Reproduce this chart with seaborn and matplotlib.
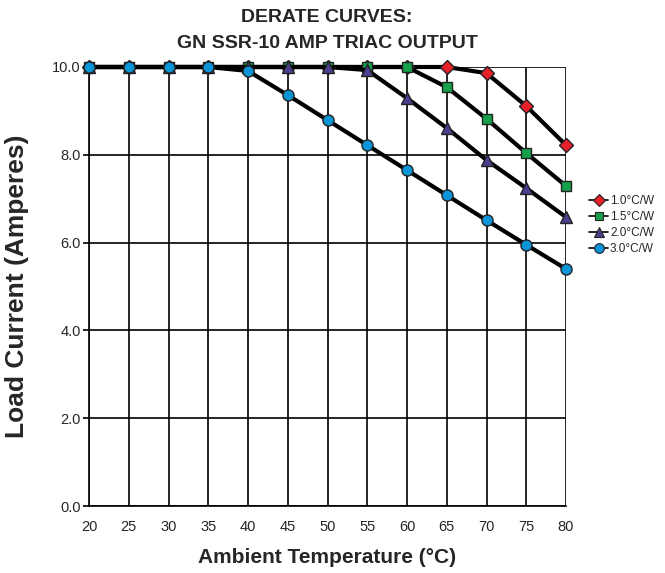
import matplotlib
matplotlib.use("Agg")
import matplotlib.pyplot as plt
import seaborn as sns
import pandas as pd
from matplotlib.lines import Line2D

temps = [20, 25, 30, 35, 40, 45, 50, 55, 60, 65, 70, 75, 80]
s10 = [10.0, 10.0, 10.0, 10.0, 10.0, 10.0, 10.0, 10.0, 10.0, 10.0, 9.86, 9.11, 8.22]
s15 = [10.0, 10.0, 10.0, 10.0, 10.0, 10.0, 10.0, 10.0, 10.0, 9.54, 8.82, 8.04, 7.29]
s20 = [10.0, 10.0, 10.0, 10.0, 10.0, 10.0, 10.0, 9.93, 9.29, 8.61, 7.88, 7.24, 6.58]
s30 = [10.0, 10.0, 10.0, 10.0, 9.91, 9.36, 8.79, 8.22, 7.65, 7.08, 6.51, 5.95, 5.40]
labels = ["1.0°C/W", "1.5°C/W", "2.0°C/W", "3.0°C/W"]
yticks = [0.0, 2.0, 4.0, 6.0, 8.0, 10.0]

colors = ["#e8202a", "#16a04a", "#4b3f8f", "#0a95d8"]
markers = ["D", "s", "^", "o"]
msizes = [7, 7, 8, 8]

sns.set_style("white")
plt.rcParams['font.family'] = ['Liberation Sans', 'DejaVu Sans']

fig = plt.figure(figsize=(6.65, 5.73), dpi=100)
ax = fig.add_axes([89/665, 1 - 506/573, (566-89)/665, (506-67)/573])

series = [s10, s15, s20, s30]
df = pd.concat([pd.DataFrame({"T": temps, "I": s, "R": lab}) for s, lab in zip(series, labels)])

for i, lab in enumerate(labels):
    sub = df[df["R"] == lab]
    sns.lineplot(data=sub, x="T", y="I", ax=ax, color="black", linewidth=3,
                 marker=markers[i], markersize=msizes[i], markerfacecolor=colors[i],
                 markeredgecolor="#222222", markeredgewidth=1.0, zorder=3 + i, legend=False,
                 clip_on=False)

ax.set_xlim(20, 80)
ax.set_ylim(0, 10)
ax.set_xticks(temps)
ax.set_yticks(yticks)
ax.set_xticklabels([str(t) for t in temps], fontsize=10.5)
ax.set_yticklabels([f"{v:.1f}" for v in yticks], fontsize=10.5)
ax.grid(True, color="black", linewidth=1.2)
ax.tick_params(axis="x", length=0, pad=10)
ax.tick_params(axis="y", length=4, width=1.2, color="black", direction="out", left=True, pad=2)
for sp in ax.spines.values():
    sp.set_color("black")
    sp.set_linewidth(1.2)
ax.spines["top"].set_visible(False)
ax.spines["right"].set_visible(False)

ax.set_xlabel("Ambient Temperature (°C)", fontsize=15, fontweight="bold", labelpad=10)
ax.set_ylabel("Load Current (Amperes)", fontsize=19, fontweight="bold")
ax.yaxis.set_label_coords(-0.125, 0.5)

fig.text(327/665, 1 - 18/573, "DERATE CURVES:", ha="center", va="center",
         fontsize=14, fontweight="bold")
fig.text(327/665, 1 - 44/573, "GN SSR-10 AMP TRIAC OUTPUT", ha="center", va="center",
         fontsize=14, fontweight="bold")

handles = [Line2D([0], [0], color="black", linewidth=1.2, marker=markers[i],
                  markersize=msizes[i] - 1, markerfacecolor=colors[i],
                  markeredgecolor="#222222", markeredgewidth=0.8) for i in range(4)]
fig.legend(handles, labels, loc="center left", bbox_to_anchor=(587/665, 1 - 225/573),
           frameon=False, handlelength=1.6, handletextpad=0.15, borderpad=0.1,
           borderaxespad=0.1, labelspacing=0.35, prop={'size': 8.5})

fig.savefig("out.png", dpi=100)
